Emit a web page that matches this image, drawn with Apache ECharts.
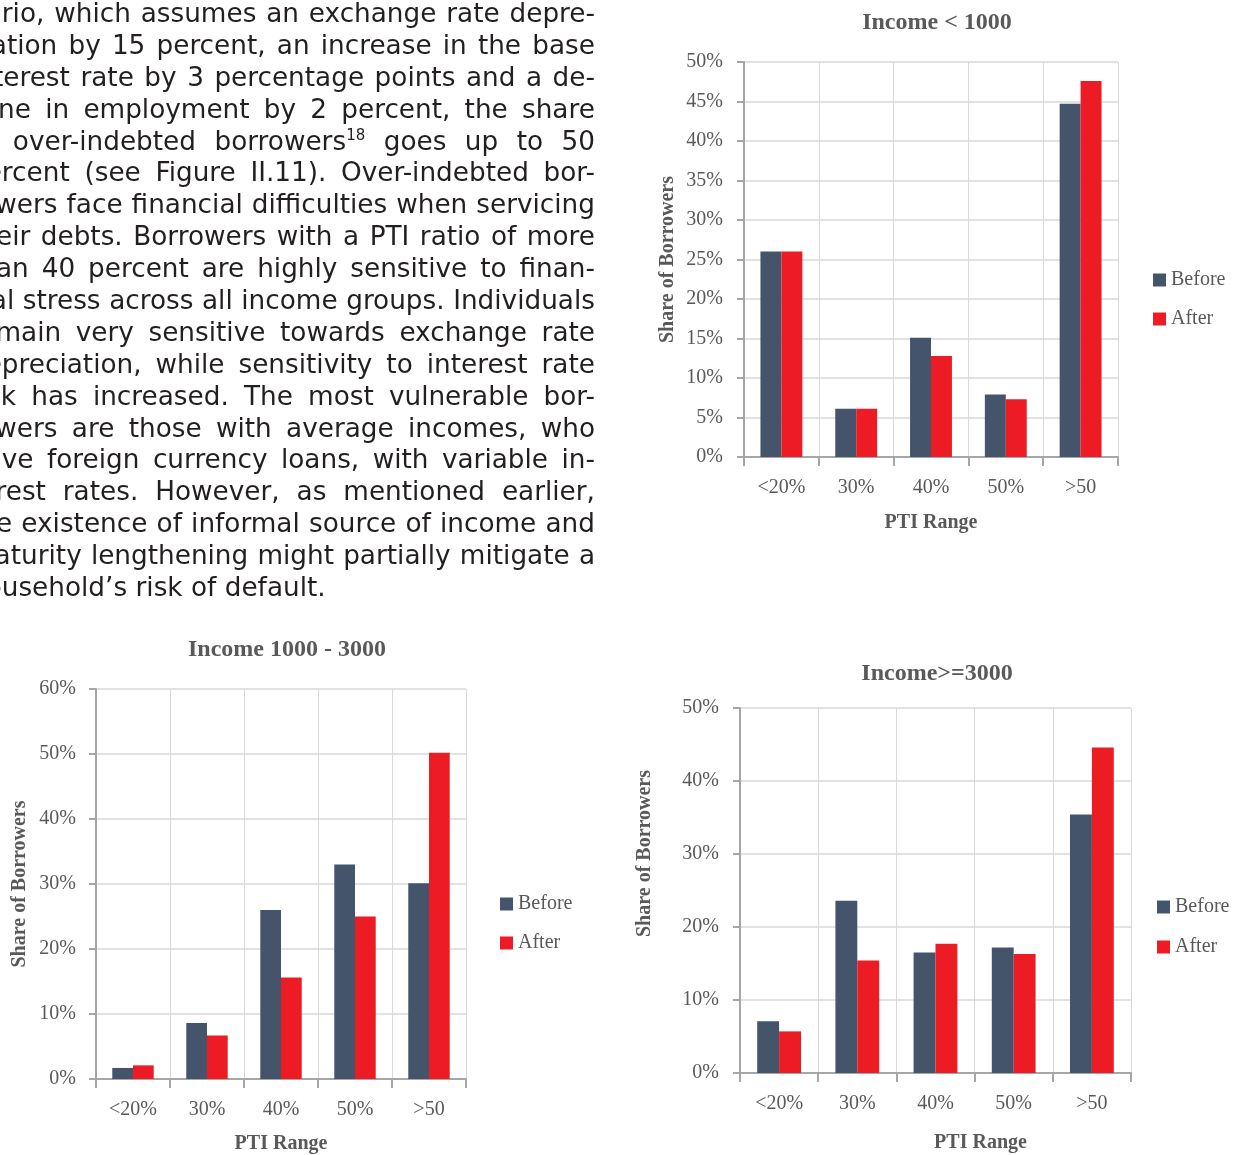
<!DOCTYPE html>
<html>
<head>
<meta charset="utf-8">
<script src="https://cdn.jsdelivr.net/npm/echarts@6/dist/echarts.min.js"></script>
<style>
  html, body { margin: 0; padding: 0; background: #fff; overflow: hidden; }
  #chart { position: absolute; left: 0; top: 0; width: 1242px; height: 1155px; }
  #text {
    position: absolute; left: -31px; top: -2px; width: 626px;
    font-family: "DejaVu Sans", sans-serif; font-size: 26.3px; line-height: 31.9px;
    color: #231f20; pointer-events: none;
  }
  #text .line { display: flex; justify-content: space-between; white-space: nowrap; height: 31.9px; }
  #text .line.last { justify-content: flex-start; }
  #text .line.last span { margin-right: 0.32em; }
  #text sup { font-size: 15px; line-height: 0; vertical-align: 10px; }
</style>
</head>
<body>
<div id="chart"></div>
<div id="text"></div>
<script>
// Body text beside the figure, one entry per justified line
const textLines = [
  'nario, which assumes an exchange rate depre-',
  'ciation by 15 percent, an increase in the base',
  'interest rate by 3 percentage points and a de-',
  'cline in employment by 2 percent, the share',
  'of over-indebted borrowers^18 goes up to 50',
  'percent (see Figure II.11). Over-indebted bor-',
  'rowers face financial difficulties when servicing',
  'their debts. Borrowers with a PTI ratio of more',
  'than 40 percent are highly sensitive to finan-',
  'cial stress across all income groups. Individuals',
  'remain very sensitive towards exchange rate',
  'depreciation, while sensitivity to interest rate',
  'risk has increased. The most vulnerable bor-',
  'rowers are those with average incomes, who',
  'have foreign currency loans, with variable in-',
  'terest rates. However, as mentioned earlier,',
  'the existence of informal source of income and',
  'maturity lengthening might partially mitigate a',
  'household’s risk of default.'
];

// PTI range categories shared by all three panels
const categories = ['<20%', '30%', '40%', '50%', '>50'];

// Share of borrowers (%) before and after the stress scenario, by income group
const lowBefore  = [26.0, 6.1, 15.1, 7.9, 44.7];
const lowAfter   = [26.0, 6.1, 12.8, 7.3, 47.6];
const midBefore  = [1.7, 8.6, 26.0, 33.0, 30.1];
const midAfter   = [2.1, 6.7, 15.6, 25.0, 50.2];
const highBefore = [7.1, 23.6, 16.5, 17.2, 35.4];
const highAfter  = [5.7, 15.4, 17.7, 16.3, 44.6];

const titles = ['Income < 1000', 'Income 1000 - 3000', 'Income>=3000'];
const yMax = [50, 60, 50];
const yStep = [5, 10, 10];

// Build the justified paragraph: each line's words are spread across the full width
const textBox = document.getElementById('text');
textLines.forEach((line, i) => {
  const row = document.createElement('div');
  row.className = 'line' + (i === textLines.length - 1 ? ' last' : '');
  line.split(' ').forEach(word => {
    const span = document.createElement('span');
    const sup = word.indexOf('^');
    if (sup >= 0) {
      span.textContent = word.slice(0, sup);
      const s = document.createElement('sup');
      s.textContent = word.slice(sup + 1);
      span.appendChild(s);
    } else {
      span.textContent = word;
    }
    row.appendChild(span);
  });
  textBox.appendChild(row);
});

const FONT = '"Liberation Serif", "Times New Roman", serif';
const GREY = '#595959';
const BEFORE = '#44546A';
const AFTER = '#ED1C24';

const panels = [
  { grid: { left: 744, top: 62, width: 374, height: 395 }, title: [932, 6], legend: [1153, 270, 19],
    yGap: 66, yPad: 0, xGap: 56, xPad: 0, labelMargin: 21, before: lowBefore, after: lowAfter },
  { grid: { left: 96, top: 689, width: 370, height: 390 }, title: [282, 633], legend: [500, 894, 19],
    yGap: 66, yPad: 0, xGap: 55, xPad: 0, labelMargin: 20, before: midBefore, after: midAfter },
  { grid: { left: 740, top: 708, width: 391, height: 365 }, title: [932, 657], legend: [1157, 897, 20],
    yGap: 85, yPad: 74, xGap: 60, xPad: 90, labelMargin: 21, before: highBefore, after: highAfter }
];

const option = {
  backgroundColor: '#fff',
  animation: false,
  textStyle: { fontFamily: FONT },
  title: panels.map((p, i) => ({
    text: titles[i], left: p.title[0], top: p.title[1], textAlign: 'center',
    textStyle: { fontFamily: FONT, fontSize: 24, fontWeight: 'bold', color: GREY }
  })),
  legend: panels.map(p => ({
    data: ['Before', 'After'], orient: 'vertical', left: p.legend[0], top: p.legend[1],
    itemGap: p.legend[2], itemWidth: 13, itemHeight: 13, icon: 'rect', padding: 0,
    textStyle: { fontFamily: FONT, fontSize: 20, color: GREY }
  })),
  grid: panels.map(p => Object.assign({ containLabel: false }, p.grid)),
  xAxis: panels.map((p, i) => ({
    type: 'category', gridIndex: i, data: categories,
    name: 'PTI Range', nameLocation: 'middle', nameGap: p.xGap,
    nameTextStyle: { fontFamily: FONT, fontSize: 20, fontWeight: 'bold', color: GREY,
      padding: [0, 0, 0, p.xPad] },
    axisLine: { lineStyle: { color: '#A6A6A6', width: 2 } },
    axisTick: { show: true, length: 9, lineStyle: { color: '#A6A6A6', width: 2 } },
    axisLabel: { margin: 21, fontFamily: FONT, fontSize: 20, color: GREY },
    splitLine: { show: true, lineStyle: { color: '#D9D9D9', width: 1 } }
  })),
  yAxis: panels.map((p, i) => ({
    type: 'value', gridIndex: i, min: 0, max: yMax[i], interval: yStep[i],
    name: 'Share of Borrowers', nameLocation: 'middle', nameRotate: 90, nameGap: p.yGap,
    nameTextStyle: { fontFamily: FONT, fontSize: 20, fontWeight: 'bold', color: GREY,
      padding: [0, 0, 0, p.yPad] },
    axisLine: { show: true, lineStyle: { color: '#A6A6A6', width: 2 } },
    axisTick: { show: true, length: 7, lineStyle: { color: '#A6A6A6', width: 2 } },
    axisLabel: { margin: p.labelMargin, fontFamily: FONT, fontSize: 20, color: GREY, formatter: '{value}%' },
    splitLine: { show: true, lineStyle: { color: '#D9D9D9', width: 1.5 } }
  })),
  series: panels.flatMap((p, i) => [
    { name: 'Before', type: 'bar', xAxisIndex: i, yAxisIndex: i, data: p.before,
      barWidth: '28%', barGap: '0%', itemStyle: { color: BEFORE } },
    { name: 'After', type: 'bar', xAxisIndex: i, yAxisIndex: i, data: p.after,
      barWidth: '28%', barGap: '0%', itemStyle: { color: AFTER } }
  ])
};

const chart = echarts.init(document.getElementById('chart'), null, { renderer: 'canvas' });
chart.setOption(option);
</script>
</body>
</html>
